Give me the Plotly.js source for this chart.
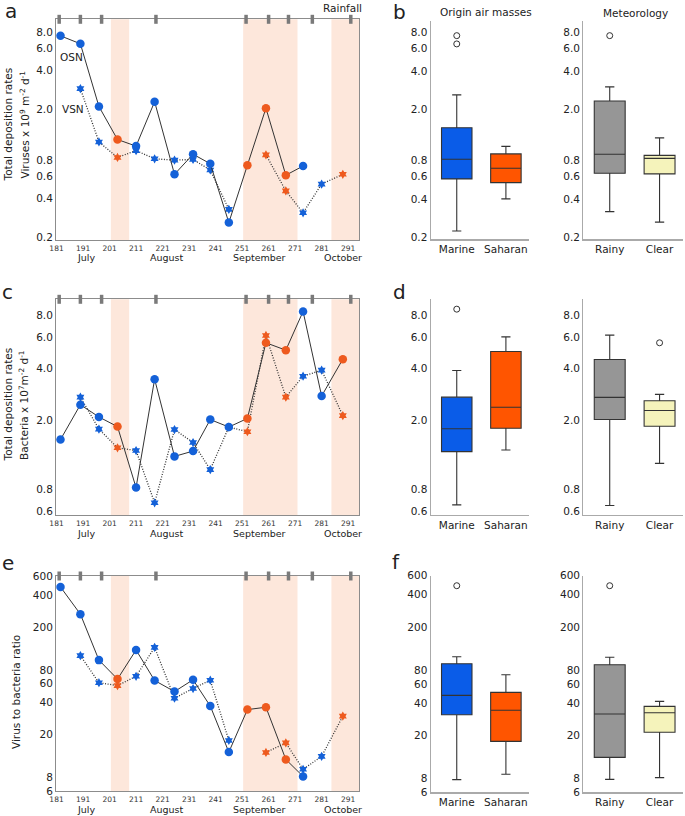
<!DOCTYPE html>
<html>
<head>
<meta charset="utf-8">
<script src="https://cdn.plot.ly/plotly-3.0.1.min.js"></script>
<style>
  html, body { margin: 0; padding: 0; background: #fff; }
  #plot { width: 685px; height: 816px; }
</style>
</head>
<body>
<div id="plot"></div>
<script>
/* ---- time series data (day of year) ---- */
const days   = [182.5, 190, 197, 204, 211, 218, 225.5, 232.5, 239, 246, 253, 260, 267.5, 274, 281, 289];
// air mass origin per sample: M = marine, S = saharan
const origin = ['M','M','M','S','M','M','M','M','M','M','S','S','S','M','M','S'];

const virusOSN = [7.5, 6.5, 2.1, 1.16, 1.03, 2.29, 0.62, 0.89, 0.75, 0.26, 0.73, 2.04, 0.61, 0.72, null, null];
const virusVSN = [null, 2.9, 1.11, 0.84, 0.95, 0.82, 0.80, 0.81, 0.67, 0.33, null, 0.88, 0.46, 0.31, 0.52, 0.62];
const bactOSN  = [1.55, 2.46, 2.09, 1.84, 0.82, 3.45, 1.24, 1.33, 2.02, 1.83, 2.05, 5.59, 5.07, 8.47, 2.76, 4.5];
const bactVSN  = [null, 2.72, 1.78, 1.39, 1.34, 0.67, 1.77, 1.49, 1.04, 1.83, 1.72, 6.16, 2.72, 3.59, 3.89, 2.13];
const ratioOSN = [474, 265, 99, 66, 123, 64, 50.5, 65, 37, 13.8, 34.3, 36.1, 11.8, 8.2, null, null];
const ratioVSN = [null, 109, 61, 57.4, 70, 130, 43.8, 53.9, 64.4, 17.7, null, 13.7, 16.8, 9.55, 12.6, 29.8];

const rainfallDays = [182, 190, 198, 218.5, 252.5, 261, 268.5, 277.5, 292];
const saharanStart = [201.5, 251.4, 284.7];
const saharanEnd   = [208.4, 271.9, 295.5];

const dayTicks  = [181, 191, 201, 211, 221, 231, 241, 251, 261, 271, 281, 291];
const months    = ['July', 'August', 'September', 'October'];
const monthDays = [192, 222.6, 257.7, 288.9];

/* ---- box plot stats: Marine, Saharan, Rainy, Clear ---- */
const groups = ['Marine', 'Saharan', 'Rainy', 'Clear'];

const virusLow  = [0.225, 0.401, 0.319, 0.264];
const virusQ1   = [0.574, 0.537, 0.635, 0.628];
const virusMed  = [0.817, 0.695, 0.893, 0.831];
const virusQ3   = [1.44, 0.90, 2.33, 0.877];
const virusHigh = [2.6, 1.03, 3.0, 1.2];
const virusOut  = [[7.53, 6.49], [], [7.53], []];

const bactLow  = [0.652, 1.35, 0.646, 1.13];
const bactQ1   = [1.32, 1.80, 2.02, 1.85];
const bactMed  = [1.79, 2.38, 2.71, 2.28];
const bactQ3   = [2.72, 4.98, 4.48, 2.59];
const bactHigh = [3.87, 6.05, 6.19, 2.82];
const bactOut  = [[8.73], [], [], [5.59]];

const ratioLow  = [7.85, 8.8, 7.9, 8.2];
const ratioQ1   = [31.2, 17.7, 12.6, 21.5];
const ratioMed  = [47.1, 34.3, 31.7, 32.6];
const ratioQ3   = [92.4, 50.2, 90.4, 37.3];
const ratioHigh = [107, 73.1, 106, 41.5];
const ratioOut  = [[485], [], [485], []];

const virusTicks = [0.2, 0.4, 0.6, 0.8, 2, 4, 6, 8];
const bactTicks  = [0.6, 0.8, 2, 4, 6, 8];
const ratioTicks = [6, 8, 20, 40, 60, 80, 200, 400, 600];

/* ---- styling ---- */
const BLUE = '#1461d8';
const ORANGE = '#ee5a1e';
const boxColors = ['#0a5ce8', '#ff5500', '#969696', '#f5f3bb'];
const FONT = 'DejaVu Sans, sans-serif';
const W = 685, H = 816;

const px = v => v / W;
const py = v => 1 - v / H;

// vertical pixel extents of the three rows [top, bottom]
const rowTS  = [[19.3, 240], [299.3, 515], [576, 791]];
const rowBox = [[20.7, 239.3], [299.3, 515], [575.7, 792.3]];
const yRanges = [
  [Math.log10(0.19), Math.log10(10.1)],
  [Math.log10(0.57), Math.log10(9.95)],
  [Math.log10(6), Math.log10(600)]
];
const boxYRanges = [
  [Math.log10(0.194), Math.log10(9.85)],
  [Math.log10(0.57), Math.log10(9.95)],
  [Math.log10(6), Math.log10(600)]
];
const tickSets = [virusTicks, bactTicks, ratioTicks];
const tickFmt = [v => v.toFixed(1), v => v.toFixed(1), v => String(v)];

function axId(n) { return n === 1 ? '' : String(n); }

const traces = [];
const shapes = [];
const annotations = [];
const layout = {
  width: W, height: H,
  margin: { l: 0, r: 0, t: 0, b: 0 },
  paper_bgcolor: '#fff',
  plot_bgcolor: 'rgba(0,0,0,0)',
  showlegend: false,
  boxmode: 'overlay',
  font: { family: FONT, color: '#222', size: 10.5 }
};

/* ---- time series panels a, c, e ---- */
const seriesOSN = [virusOSN, bactOSN, ratioOSN];
const seriesVSN = [virusVSN, bactVSN, ratioVSN];
const pointColors = origin.map(o => o === 'S' ? ORANGE : BLUE);

for (let r = 0; r < 3; r++) {
  const n = r + 1;
  const xa = 'x' + axId(n), ya = 'y' + axId(n);
  const [top, bot] = rowTS[r];

  layout['xaxis' + axId(n)] = {
    domain: [px(56), px(359)], range: [180.8, 295.1], anchor: ya,
    tickvals: dayTicks, ticktext: dayTicks.map(String),
    tickfont: { size: 7.5, color: '#333' }, ticks: '', ticklabelstandoff: 1,
    showline: true, mirror: true, linecolor: '#8c8c8c', linewidth: 1,
    showgrid: false, zeroline: false
  };
  layout['yaxis' + axId(n)] = {
    domain: [py(bot), py(top)], type: 'log', range: yRanges[r], anchor: xa,
    tickvals: tickSets[r], ticktext: tickSets[r].map(tickFmt[r]),
    tickfont: { size: 10.5, color: '#222' }, ticks: '',
    showline: true, mirror: true, linecolor: '#8c8c8c', linewidth: 1,
    showgrid: false, zeroline: false
  };

  traces.push({
    x: days, y: seriesVSN[r], xaxis: xa, yaxis: ya, type: 'scatter',
    mode: 'lines+markers',
    line: { color: '#333', width: 1.3, dash: '1px,1.6px' },
    marker: { symbol: 'hexagram', size: 7, color: pointColors, line: { width: 0 } }
  });
  traces.push({
    x: days, y: seriesOSN[r], xaxis: xa, yaxis: ya, type: 'scatter',
    mode: 'lines+markers',
    line: { color: '#333', width: 1 },
    marker: { symbol: 'circle', size: 8.5, color: pointColors, line: { width: 0 } }
  });

  // saharan intrusion periods
  saharanStart.forEach((s, i) => {
    shapes.push({
      type: 'rect', xref: xa, yref: ya + ' domain', x0: s, x1: saharanEnd[i], y0: 0, y1: 1,
      fillcolor: '#fde7db', line: { width: 0 }, layer: 'below'
    });
  });
  // rainfall marks on the top frame
  const h = 4.5 / (bot - top);
  rainfallDays.forEach(d => {
    shapes.push({
      type: 'line', xref: xa, yref: ya + ' domain', x0: d, x1: d, y0: 1 - h, y1: 1 + h,
      line: { color: '#7a7a7a', width: 3.5 }, layer: 'above'
    });
  });
  // month names
  const monthY = [257, 533, 809][r];
  months.forEach((m, i) => {
    annotations.push({
      text: m, xref: xa, yref: 'paper', x: monthDays[i], y: py(monthY),
      showarrow: false, font: { size: 9.5, color: '#222' }, xanchor: 'center', yanchor: 'middle'
    });
  });
}

/* ---- box plot panels b, d, f ---- */
const boxStats = [
  [virusLow, virusQ1, virusMed, virusQ3, virusHigh, virusOut],
  [bactLow, bactQ1, bactMed, bactQ3, bactHigh, bactOut],
  [ratioLow, ratioQ1, ratioMed, ratioQ3, ratioHigh, ratioOut]
];
const boxCols = [[px(430.7), px(529)], [px(583.3), px(683)]];

for (let r = 0; r < 3; r++) {
  const [low, q1, med, q3, high, out] = boxStats[r];
  const [top, bot] = rowBox[r];
  for (let c = 0; c < 2; c++) {
    const n = 4 + r * 2 + c;
    const xa = 'x' + n, ya = 'y' + n;
    const cats = groups.slice(c * 2, c * 2 + 2);
    layout['xaxis' + n] = {
      domain: boxCols[c], anchor: ya, type: 'category',
      categoryorder: 'array', categoryarray: cats, range: [-0.53, 1.47],
      tickfont: { size: 10.5, color: '#222' }, ticks: '',
      showline: true, linecolor: '#aaa', linewidth: 1.2, showgrid: false, zeroline: false
    };
    layout['yaxis' + n] = {
      domain: [py(bot), py(top)], anchor: xa, type: 'log', range: boxYRanges[r],
      tickvals: tickSets[r], ticktext: tickSets[r].map(tickFmt[r]),
      tickfont: { size: 10.5, color: '#222' }, ticks: '',
      showline: true, linecolor: '#aaa', linewidth: 1.2, showgrid: false, zeroline: false
    };
    cats.forEach((g, k) => {
      const i = c * 2 + k;
      traces.push({
        type: 'box', xaxis: xa, yaxis: ya, x: [g],
        q1: [q1[i]], median: [med[i]], q3: [q3[i]],
        lowerfence: [low[i]], upperfence: [high[i]],
        width: 0.62, whiskerwidth: 0.3, boxpoints: false,
        fillcolor: boxColors[i], line: { color: '#333', width: 1.1 },
        hoverinfo: 'skip'
      });
      if (out[i].length) {
        traces.push({
          type: 'scatter', mode: 'markers', xaxis: xa, yaxis: ya,
          x: out[i].map(() => g), y: out[i],
          marker: { symbol: 'circle-open', size: 6, color: '#333', line: { width: 1 } }
        });
      }
    });
  }
}

/* ---- text labels ---- */
function note(text, x, y, size, extra) {
  annotations.push(Object.assign({
    text: text, xref: 'paper', yref: 'paper', x: px(x), y: py(y),
    showarrow: false, xanchor: 'center', yanchor: 'middle',
    font: { size: size, color: '#222', family: FONT }
  }, extra || {}));
}
note('a', 11, 11, 20);
note('b', 400, 12, 20);
note('c', 8, 292, 20);
note('d', 399, 292, 20);
note('e', 8, 563, 20);
note('f', 396, 562, 20);

note('Rainfall', 342, 8, 10.5);
note('Origin air masses', 486, 12, 10.5);
note('Meteorology', 635, 13, 10.5);
note('OSN', 71, 57, 10.5);
note('VSN', 73, 109, 10.5);

note('Total deposition rates', 7.5, 125, 10.5, { textangle: -90 });
note('Viruses x 10<sup>9</sup> m<sup>-2</sup> d<sup>-1</sup>', 23.5, 125, 10.5, { textangle: -90 });
note('Total deposition rates', 7.5, 405, 10.5, { textangle: -90 });
note('Bacteria x 10<sup>7</sup>m<sup>-2</sup> d<sup>-1</sup>', 23, 405, 10.5, { textangle: -90 });
note('Virus to bacteria ratio', 16, 692, 10.5, { textangle: -90 });

layout.shapes = shapes;
layout.annotations = annotations;

Plotly.newPlot('plot', traces, layout, { staticPlot: true, displayModeBar: false });
</script>
</body>
</html>
